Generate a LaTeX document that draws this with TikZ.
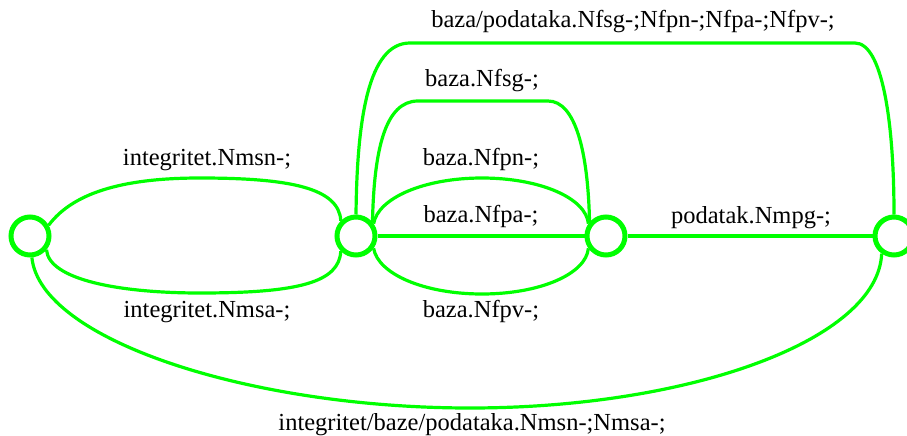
\documentclass[tikz,border=0pt]{standalone}
\usepackage{fontspec}
\setmainfont{Liberation Serif}
\definecolor{edgegreen}{RGB}{0,255,0}
\begin{document}
\begin{tikzpicture}[x=1pt,y=-1pt,
  state/.style={circle,draw=edgegreen,line width=5pt,minimum size=38pt,inner sep=0pt},
  edge/.style={draw=edgegreen,line width=3.2pt},
  lbl/.style={anchor=base,inner sep=0pt,font=\fontsize{24.5}{28}\selectfont}]
\useasboundingbox (0,0) rectangle (907,436);
\node[state] (A) at (30,236) {};
\node[state] (B) at (356,236) {};
\node[state] (C) at (606,236) {};
\node[state] (D) at (894,236) {};
% A -- B
\path[edge] (A.30) .. controls (75,190) and (130,178) .. (200,178)
  .. controls (290,178) and (339,188) .. (B.135);
\path[edge] (A.-40) .. controls (49,280) and (120,293) .. (200,293)
  .. controls (300,293) and (339,282) .. (B.-135);
% B -- C
\path[edge] (B.east) -- (C.west);
\path[edge] (B.35) .. controls (378,198) and (424,178) .. (482,178)
  .. controls (540,178) and (586,198) .. (C.145);
\path[edge] (B.-35) .. controls (378,274) and (424,294) .. (482,294)
  .. controls (540,294) and (586,274) .. (C.-145);
\path[edge] (B.40) .. controls (374,150) and (385,101) .. (418,101)
  -- (548,101) .. controls (575,101) and (588,150) .. (C.140);
% B -- D
\path[edge] (B.90) .. controls (357,120) and (368,43) .. (410,43)
  -- (855,43) .. controls (882,43) and (894,120) .. (D.90);
% C -- D
\path[edge] (C.east) -- (D.west);
% A -- D
\path[edge] (A.-85) .. controls (40,340) and (250,408) .. (470,408)
  .. controls (690,408) and (878,340) .. (D.-125);
% labels
\node[lbl] (l1) at (633,28) {baza/podataka.Nfsg-;Nfpn-;Nfpa-;Nfpv-;};
\node[lbl] (l2) at (482,86) {baza.Nfsg-;};
\node[lbl] (l3) at (207,165) {integritet.Nmsn-;};
\node[lbl] (l4) at (481,165) {baza.Nfpn-;};
\node[lbl] (l5) at (481,222) {baza.Nfpa-;};
\node[lbl] (l6) at (751,223) {podatak.Nmpg-;};
\node[lbl] (l7) at (207,317) {integritet.Nmsa-;};
\node[lbl] (l8) at (481,317) {baza.Nfpv-;};
\node[lbl] (l9) at (472,430) {integritet/baze/podataka.Nmsn-;Nmsa-;};
\end{tikzpicture}
\end{document}
